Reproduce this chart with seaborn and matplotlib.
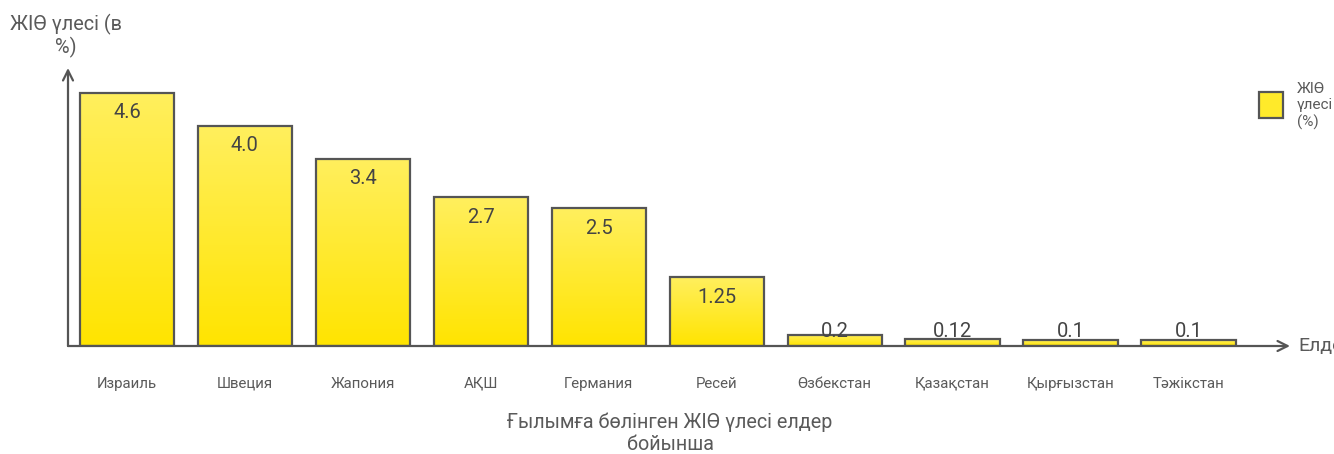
import numpy as np
import pandas as pd
import matplotlib
matplotlib.use("Agg")
import matplotlib.pyplot as plt
import seaborn as sns
from matplotlib.colors import LinearSegmentedColormap
from matplotlib.patches import Rectangle

countries = ["Израиль", "Швеция", "Жапония", "АҚШ", "Германия", "Ресей",
             "Өзбекстан", "Қазақстан", "Қырғызстан", "Тәжікстан"]
shares = [4.6, 4.0, 3.4, 2.7, 2.5, 1.25, 0.2, 0.12, 0.1, 0.1]
value_labels = ["4.6", "4.0", "3.4", "2.7", "2.5", "1.25", "0.2", "0.12", "0.1", "0.1"]

title = "Ғылымға бөлінген ЖІӨ үлесі елдер\nбойынша"
y_title = "ЖІӨ үлесі (в\n%)"
x_title = "Елдер"
legend_label = "ЖІӨ\nүлесі\n(%)"

sns.set_theme(style="white")
plt.rcParams["font.family"] = ["Roboto", "DejaVu Sans"]

GREY = "#555555"
TEXT = "#5a5a5a"
grad = LinearSegmentedColormap.from_list("yl", ["#FFE400", "#FFEF5E"])

df = pd.DataFrame({"country": countries, "share": shares})

fig = plt.figure(figsize=(13.34, 4.54), dpi=100)
ax = fig.add_axes([68 / 1334, 1 - 346 / 454, (1290 - 68) / 1334, (346 - 68) / 454])

sns.barplot(data=df, x="country", y="share", ax=ax, color="#FFE800",
            width=0.8, edgecolor=GREY, linewidth=1.6, zorder=3)

# vertical gradient fill inside each bar
gradient = np.linspace(0, 1, 256).reshape(-1, 1)
for bar in ax.patches:
    x0, y0 = bar.get_x(), bar.get_y()
    w, h = bar.get_width(), bar.get_height()
    bar.set_facecolor("none")
    im = ax.imshow(gradient, cmap=grad, aspect="auto", origin="lower",
                   extent=(x0, x0 + w, y0, y0 + h), zorder=2,
                   interpolation="bilinear")
    im.set_clip_path(bar)
ax.set_xlim(-0.5, 9.86)
ax.set_ylim(0, 5.05)

# value labels near the top of each bar
for i, (v, lab) in enumerate(zip(shares, value_labels)):
    ax.text(i, max(v - 0.36, 0.27), lab, ha="center", va="center",
            fontsize=14.5, color="#444444", zorder=5)

for s in ax.spines.values():
    s.set_visible(False)
ax.set_xlabel("")
ax.set_ylabel("")
ax.set_yticks([])
ax.tick_params(axis="x", length=0, pad=22, labelsize=10.8, labelcolor=TEXT)

# axis lines with open arrowheads
ax.annotate("", xy=(0, 1.0), xytext=(0, 0), xycoords="axes fraction",
            arrowprops=dict(arrowstyle="->", color=GREY, lw=1.6,
                            mutation_scale=18, shrinkA=0, shrinkB=0), zorder=6)
ax.annotate("", xy=(1.0, 0), xytext=(0, 0), xycoords="axes fraction",
            arrowprops=dict(arrowstyle="->", color=GREY, lw=1.6,
                            mutation_scale=18, shrinkA=0, shrinkB=0), zorder=6)

fig.text(1298 / 1334, 1 - 346 / 454, x_title, ha="left", va="center",
         fontsize=14, color=TEXT)
fig.text(66 / 1334, 1 - 36 / 454, y_title, ha="center", va="center",
         fontsize=14.3, color=TEXT, linespacing=1.1)
fig.text(670 / 1334, 1 - 433 / 454, title, ha="center", va="center",
         fontsize=14.2, color=TEXT, linespacing=1.2)

# legend
fig.patches.append(Rectangle((1259 / 1334, 1 - 118 / 454), 24 / 1334, 26 / 454,
                             transform=fig.transFigure, facecolor="#FFEA2A",
                             edgecolor=GREY, linewidth=1.6))
fig.text(1297 / 1334, 1 - 106 / 454, legend_label, ha="left", va="center",
         fontsize=11, color=TEXT, linespacing=1.2)

fig.savefig("out.png", dpi=100)
